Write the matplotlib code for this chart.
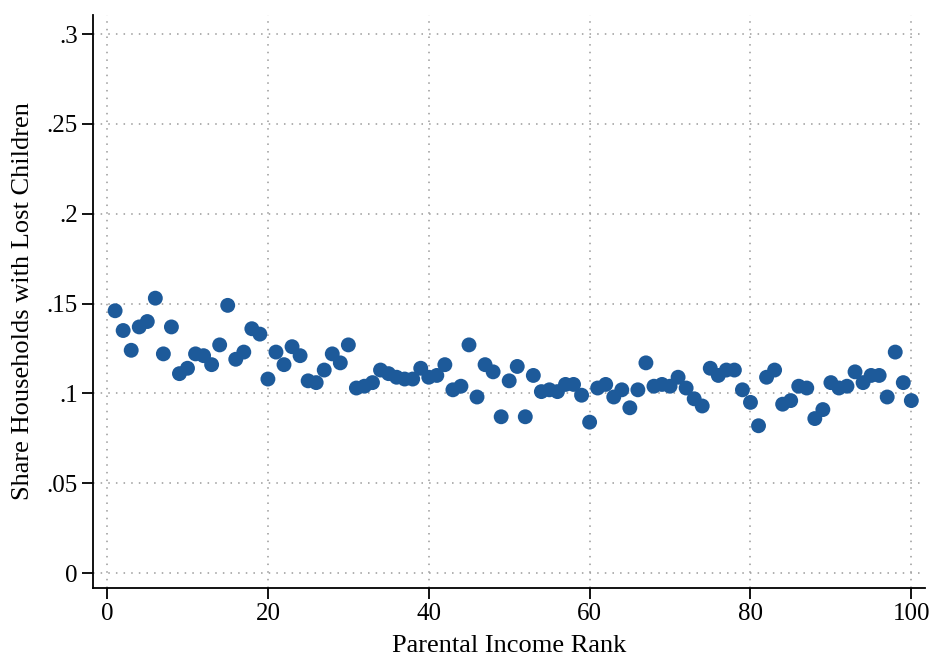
import numpy as np
import matplotlib
matplotlib.use("Agg")
import matplotlib.pyplot as plt
from matplotlib.ticker import FixedLocator

plt.rcParams['font.family'] = ['Liberation Serif', 'DejaVu Serif']

# ---------------------------------------------------------------------------
# Data
# ---------------------------------------------------------------------------
income_rank = list(range(1, 101))
share_lost = [
    0.146, 0.135, 0.124, 0.137, 0.140, 0.153, 0.122, 0.137, 0.111, 0.114,
    0.122, 0.121, 0.116, 0.127, 0.149, 0.119, 0.123, 0.136, 0.133, 0.108,
    0.123, 0.116, 0.126, 0.121, 0.107, 0.106, 0.113, 0.122, 0.117, 0.127,
    0.103, 0.104, 0.106, 0.113, 0.111, 0.109, 0.108, 0.108, 0.114, 0.109,
    0.110, 0.116, 0.102, 0.104, 0.127, 0.098, 0.116, 0.112, 0.087, 0.107,
    0.115, 0.087, 0.110, 0.101, 0.102, 0.101, 0.105, 0.105, 0.099, 0.084,
    0.103, 0.105, 0.098, 0.102, 0.092, 0.102, 0.117, 0.104, 0.105, 0.104,
    0.109, 0.103, 0.097, 0.093, 0.114, 0.110, 0.113, 0.113, 0.102, 0.095,
    0.082, 0.109, 0.113, 0.094, 0.096, 0.104, 0.103, 0.086, 0.091, 0.106,
    0.103, 0.104, 0.112, 0.106, 0.110, 0.110, 0.098, 0.123, 0.106, 0.096,
]
x_ticks = [0, 20, 40, 60, 80, 100]
y_ticks = [0, 0.05, 0.1, 0.15, 0.2, 0.25, 0.3]
y_tick_labels = ["0", ".05", ".1", ".15", ".2", ".25", ".3"]

# ---------------------------------------------------------------------------
# Figure
# ---------------------------------------------------------------------------
fig = plt.figure(figsize=(9.3, 6.59), dpi=100)
ax = fig.add_axes([93 / 930, 1 - 588 / 659, (925 - 93) / 930, (588 - 15) / 659])

ax.scatter(income_rank, share_lost, s=115, color="#1d5a9a", edgecolors="none", zorder=3)

ax.set_xlim(-1.75, 101.7)
ax.set_ylim(-0.0083, 0.3106)

ax.xaxis.set_major_locator(FixedLocator(x_ticks))
ax.set_yticks(y_ticks)
ax.set_yticklabels(y_tick_labels, rotation=0)

ax.grid(True, color="#9a9a9a", linestyle=(0, (1, 4)), linewidth=1.1, zorder=0)

for side in ("top", "right"):
    ax.spines[side].set_visible(False)
for side in ("left", "bottom"):
    ax.spines[side].set_linewidth(1.3)

ax.tick_params(direction="out", length=8, width=1.3, labelsize=18, pad=3)

ax.set_xlabel("Parental Income Rank", fontsize=19, labelpad=7)
ax.set_ylabel("Share Households with Lost Children", fontsize=19, labelpad=9)

fig.savefig("out.png", dpi=100, facecolor="white")
plt.close(fig)
